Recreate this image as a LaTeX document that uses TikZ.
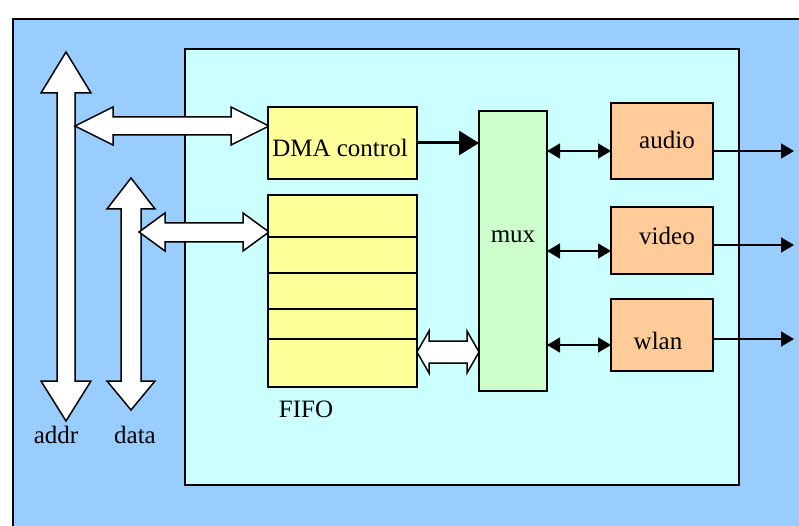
\documentclass[tikz,border=0pt]{standalone}
\usepackage{fontspec}
\setmainfont{Liberation Serif}
\usetikzlibrary{arrows.meta}
\definecolor{outerblue}{HTML}{99CCFF}
\definecolor{innercyan}{HTML}{CCFFFF}
\definecolor{boxyellow}{HTML}{FFFF99}
\definecolor{muxgreen}{HTML}{CCFFCC}
\definecolor{boxorange}{HTML}{FFCC99}
\begin{document}
\begin{tikzpicture}[x=1pt,y=-1pt, line width=1.5pt,
  blk/.style={draw, rectangle, inner sep=0pt, outer sep=0pt, anchor=north west},
  lbl/.style={font=\fontsize{25}{29}\selectfont, inner sep=0pt, anchor=base},
  fat/.style={draw, fill=white, line join=miter},
  thinarrow/.style={{Triangle[length=13pt,width=15pt]}-{Triangle[length=13pt,width=15pt]}},
  outarrow/.style={-{Triangle[length=13pt,width=15pt]}},
  thickarrow/.style={line width=3pt, -{Triangle[length=20pt,width=24pt]}},
]
\useasboundingbox (0,0) rectangle (799,526);
% outer area
\fill[outerblue] (13,19) rectangle (799,526);
\draw (13,526) -- (13,19) -- (799,19);
% inner box
\node[blk, fill=innercyan, minimum width=554pt, minimum height=436pt] (inner) at (185,49) {};
% fat bus arrows
\draw[fat] (66,52) -- (91,93) -- (75,93) -- (75,381) -- (91,381) -- (66,421)
  -- (41,381) -- (57,381) -- (57,93) -- (41,93) -- cycle;
\draw[fat] (131,178) -- (155,209) -- (141,209) -- (141,381) -- (155,381) -- (131,410)
  -- (107,381) -- (121,381) -- (121,209) -- (107,209) -- cycle;
\draw[fat] (75,126) -- (113,107) -- (113,117) -- (231,117) -- (231,107) -- (269,126)
  -- (231,145) -- (231,135) -- (113,135) -- (113,145) -- cycle;
\draw[fat] (139,232) -- (165,213) -- (165,223) -- (243,223) -- (243,213) -- (269,232)
  -- (243,251) -- (243,242) -- (165,242) -- (165,251) -- cycle;
% blocks
\node[blk, fill=boxyellow, minimum width=149pt, minimum height=72pt] (dma) at (268,107) {};
\node[blk, fill=boxyellow, minimum width=149pt, minimum height=192pt] (fifo) at (268,195) {};
\foreach \yy in {237,273,309,339}
  \draw (fifo.west |- 0,\yy) -- (fifo.east |- 0,\yy);
\node[blk, fill=muxgreen, minimum width=68pt, minimum height=280pt] (mux) at (479,111) {};
\node[blk, fill=boxorange, minimum width=102pt, minimum height=76pt] (audio) at (611,103) {};
\node[blk, fill=boxorange, minimum width=102pt, minimum height=67pt] (video) at (611,207) {};
\node[blk, fill=boxorange, minimum width=102pt, minimum height=72pt] (wlan) at (611,299) {};
% FIFO <-> mux fat arrow
\draw[fat] (417,352) -- (429,331) -- (429,341) -- (467,341) -- (467,331) -- (479,352)
  -- (467,373) -- (467,363) -- (429,363) -- (429,373) -- cycle;
% labels
\node[lbl] (tdma) at (340,157) {DMA control};
\node[lbl] (tmux) at (513,243) {mux};
\node[lbl] (taudio) at (667,149) {audio};
\node[lbl] (tvideo) at (667,245) {video};
\node[lbl] (twlan) at (658,349) {wlan};
\node[lbl] (tfifo) at (306,417) {FIFO};
\node[lbl] (taddr) at (56,443) {addr};
\node[lbl] (tdata) at (135,443) {data};
% connectors
\draw[thickarrow] (dma.east |- 0,143) -- (mux.west |- 0,143);
\draw[thinarrow] (mux.east |- 0,151) -- (audio.west |- 0,151);
\draw[thinarrow] (mux.east |- 0,251) -- (video.west |- 0,251);
\draw[thinarrow] (mux.east |- 0,345) -- (wlan.west |- 0,345);
\coordinate (oa) at (794,151);
\coordinate (ov) at (794,245);
\coordinate (ow) at (794,339);
\draw[outarrow] (audio.east |- oa) -- (oa);
\draw[outarrow] (video.east |- ov) -- (ov);
\draw[outarrow] (wlan.east |- ow) -- (ow);
\end{tikzpicture}
\end{document}
